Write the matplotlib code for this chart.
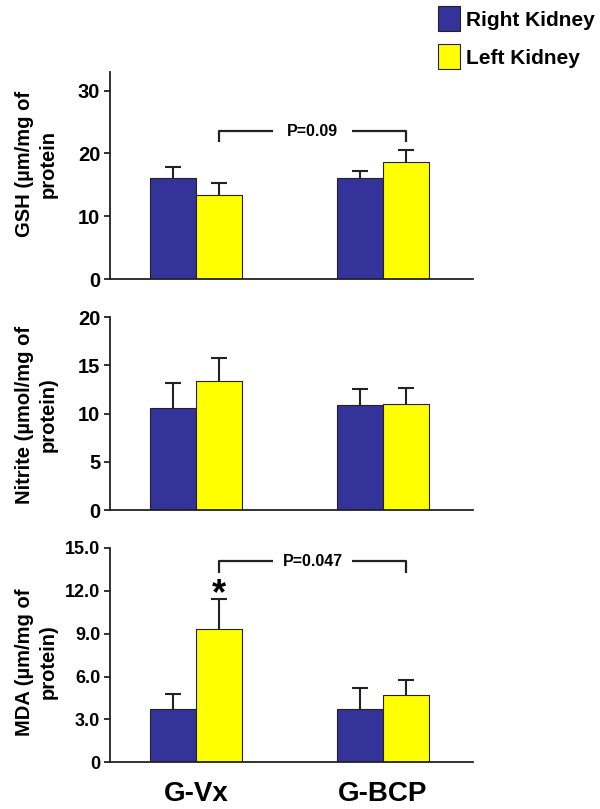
import numpy as np
import matplotlib
matplotlib.use("Agg")
import matplotlib.pyplot as plt
from matplotlib.patches import Patch

plt.rcParams['font.family'] = ['Liberation Sans', 'DejaVu Sans']
plt.rcParams['font.weight'] = 'bold'

# data
groups = ['G-Vx', 'G-BCP']
series = ['Right Kidney', 'Left Kidney']
colors = ['#333399', '#ffff00']

gsh_mean = [[16.1, 16.0], [13.3, 18.7]]
gsh_err = [[1.7, 1.2], [2.0, 1.8]]
nitrite_mean = [[10.6, 10.9], [13.4, 11.0]]
nitrite_err = [[2.6, 1.7], [2.4, 1.7]]
mda_mean = [[3.7, 3.7], [9.35, 4.7]]
mda_err = [[1.05, 1.5], [2.1, 1.05]]

panels = [
    dict(mean=gsh_mean, err=gsh_err, ylim=33, ticks=[0, 10, 20, 30],
         ticklabels=['0', '10', '20', '30'],
         label='GSH (µm/mg of\nprotein', pval='P=0.09', bracket=(21.8, 23.5)),
    dict(mean=nitrite_mean, err=nitrite_err, ylim=20, ticks=[0, 5, 10, 15, 20],
         ticklabels=['0', '5', '10', '15', '20'],
         label='Nitrite (µmol/mg of\nprotein)', pval=None, bracket=None),
    dict(mean=mda_mean, err=mda_err, ylim=15, ticks=[0, 3, 6, 9, 12, 15],
         ticklabels=['0', '3.0', '6.0', '9.0', '12.0', '15.0'],
         label='MDA (µm/mg of\nprotein)', pval='P=0.047', bracket=(13.27, 14.07)),
]

W, H = 600, 809
fig = plt.figure(figsize=(W / 100, H / 100), dpi=100)

# axes boxes in pixels: (top, bottom)
boxes = [(71.7, 279), (317.3, 510), (548, 762.3)]
label_y = [164, 415, 662]
tick_fs = [14.5, 14.5, 13]
x_left, x_right = 110, 473

x = np.arange(len(groups))
w = 0.246

for i, (p, (top, bot)) in enumerate(zip(panels, boxes)):
    ax = fig.add_axes([x_left / W, 1 - bot / H, (x_right - x_left) / W, (bot - top) / H])
    for s in range(2):
        pos = x + (s - 0.5) * w
        ax.bar(pos, p['mean'][s], width=w, color=colors[s],
               edgecolor='#222222', linewidth=0.8, zorder=2)
        eb = ax.errorbar(pos, p['mean'][s], yerr=[np.zeros(2), p['err'][s]],
                         fmt='none', ecolor='#222222', elinewidth=1.5,
                         capsize=5.5, capthick=1.5, zorder=1)
        eb[1][0].set_visible(False)  # no lower cap
    ax.set_xlim(-0.46, 1.481)
    ax.set_ylim(0, p['ylim'])
    ax.set_yticks(p['ticks'])
    ax.set_yticklabels(p['ticklabels'], fontsize=tick_fs[i], fontweight='bold')
    ax.set_xticks([])
    for sp in ['top', 'right']:
        ax.spines[sp].set_visible(False)
    for sp in ['left', 'bottom']:
        ax.spines[sp].set_linewidth(1.3)
        ax.spines[sp].set_color('#222222')
    ax.tick_params(axis='y', length=4, width=1.3, pad=3, colors='#222222')
    for t in ax.get_yticklabels():
        t.set_color('black')

    fig.text(36 / W, 1 - label_y[i] / H, p['label'], rotation=90,
             ha='center', va='center', multialignment='center',
             fontsize=14.5, fontweight='bold', linespacing=1.3)

    if p['pval']:
        xa = x[0] + 0.5 * w
        xb = x[1] + 0.5 * w
        xm = (xa + xb) / 2
        gap = 0.21
        lo, hi = p['bracket']
        ax.plot([xa, xa, xm - gap], [lo, hi, hi], color='#222222', lw=1.6,
                solid_capstyle='butt', clip_on=False)
        ax.plot([xm + gap, xb, xb], [hi, hi, lo], color='#222222', lw=1.6,
                solid_capstyle='butt', clip_on=False)
        ax.text(xm, hi, p['pval'], ha='center', va='center',
                fontsize=11.5, fontweight='bold')

    if i == 2:
        ax.text(x[0] + 0.5 * w, p['mean'][1][0] + p['err'][1][0] - 0.4, '*',
                ha='center', va='baseline', fontsize=26, fontweight='bold')
        for g, gx in zip(groups, x):
            ax.text(gx, -0.15, g, transform=ax.get_xaxis_transform(),
                    ha='center', va='center', fontsize=20, fontweight='bold')

handles = [Patch(facecolor=c, edgecolor='#222222', linewidth=0.8) for c in colors]
fig.legend(handles, series, loc='upper left', bbox_to_anchor=(438 / W, 1 - 6 / H),
           frameon=False, prop={'weight': 'bold', 'size': 15},
           handlelength=1.05, handleheight=1.5, handletextpad=0.3,
           labelspacing=0.6, borderpad=0, borderaxespad=0)

fig.savefig('out.png', dpi=100)
